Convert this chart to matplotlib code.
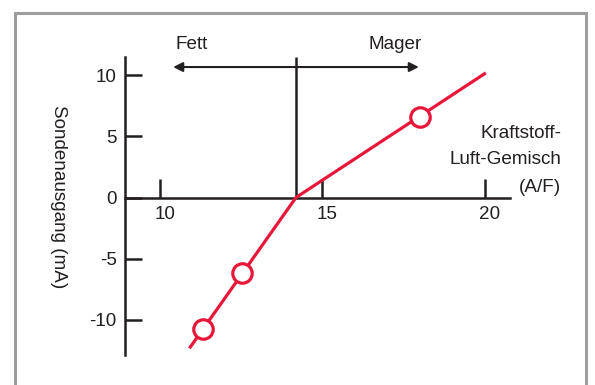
import matplotlib
matplotlib.use("Agg")
import matplotlib.pyplot as plt
from matplotlib.patches import Rectangle
from matplotlib.transforms import ScaledTranslation

plt.rcParams['font.family'] = ['Liberation Sans', 'DejaVu Sans']
plt.rcParams['axes.unicode_minus'] = False

# data
line_x = [10.95, 14.2, 20.0]
line_y = [-12.2, 0.0, 10.1]
marker_x = [11.35, 12.55, 18.0]
marker_y = [-10.7, -6.15, 6.6]
x_ticks = [10, 15, 20]
y_ticks = [-10, -5, 0, 5, 10]
stoich_x = 14.2

red = '#e8173a'
dark = '#231f20'
fs = 13.6

fig = plt.figure(figsize=(5.95, 3.85), dpi=100)

# gray frame round the picture (bottom runs off the image)
fig.patches.append(Rectangle((15 / 595, -0.05), (586 - 15) / 595, (385 - 13) / 385 + 0.05,
                             transform=fig.transFigure, fill=False,
                             edgecolor='#9d9d9d', linewidth=2.2))

# axes box: y axis at x=125px, x axis end at 510px, top 57px, bottom 355px
ax = fig.add_axes([125 / 595, (385 - 355) / 385, (510 - 125) / 595, (355 - 57) / 385])
xmin = 10 - (159.5 - 125) / 32.5
xmax = 10 + (510 - 159.5) / 32.5
ymax = (197.5 - 57) / 12.25
ymin = (197.5 - 355) / 12.25
ax.set_xlim(xmin, xmax)
ax.set_ylim(ymin, ymax)
ax.patch.set_visible(False)

for s in ['top', 'right']:
    ax.spines[s].set_visible(False)
ax.spines['bottom'].set_position(('data', 0))
ax.spines['left'].set_position(('data', xmin))
for s in ['left', 'bottom']:
    ax.spines[s].set_linewidth(1.8)
    ax.spines[s].set_color(dark)

ax.set_xticks(x_ticks)
ax.set_xticklabels([str(v) for v in x_ticks])
ax.set_yticks(y_ticks)
ax.set_yticklabels([str(v) for v in y_ticks])
ax.tick_params(axis='x', direction='in', length=13.5, width=1.8, color=dark,
               labelsize=fs, pad=6, labelcolor=dark)
ax.tick_params(axis='y', direction='in', length=12, width=1.8, color=dark,
               labelsize=fs, pad=6, labelcolor=dark)
# x labels sit a little right of their ticks in the original
for lbl in ax.get_xticklabels():
    lbl.set_transform(lbl.get_transform() + ScaledTranslation(4 / 72, 0, fig.dpi_scale_trans))

# vertical stoichiometric line
ax.plot([stoich_x, stoich_x], [0, ymax], color=dark, lw=1.8, clip_on=False,
        solid_capstyle='butt')

# rich / lean arrow
ax.annotate('', xy=(10.42, 10.65), xytext=(17.98, 10.65),
            arrowprops=dict(arrowstyle='<|-|>', color=dark, lw=1.5,
                            mutation_scale=14, shrinkA=0, shrinkB=0),
            annotation_clip=False)
ax.text(11.0, 12.45, 'Fett', ha='center', va='center', fontsize=fs, color=dark)
ax.text(17.25, 12.45, 'Mager', ha='center', va='center', fontsize=fs, color=dark)

# sensor curve
ax.plot(line_x, line_y, color=red, lw=2.3, zorder=3, clip_on=False)
ax.plot(marker_x, marker_y, 'o', ms=14, mfc='white', mec=red, mew=2.3,
        zorder=4, clip_on=False)

fig.text(58.5 / 595, 1 - 197 / 385, 'Sondenausgang (mA)', rotation=-90,
         ha='center', va='center', fontsize=fs, color=dark)

fig.text(561 / 595, 1 - 133 / 385, 'Kraftstoff-', ha='right', va='center',
         fontsize=fs, color=dark)
fig.text(561 / 595, 1 - 160 / 385, 'Luft-Gemisch', ha='right', va='center',
         fontsize=fs, color=dark)
fig.text(561 / 595, 1 - 188 / 385, '(A/F)', ha='right', va='center',
         fontsize=fs, color=dark)

fig.savefig('out.png', dpi=100)
